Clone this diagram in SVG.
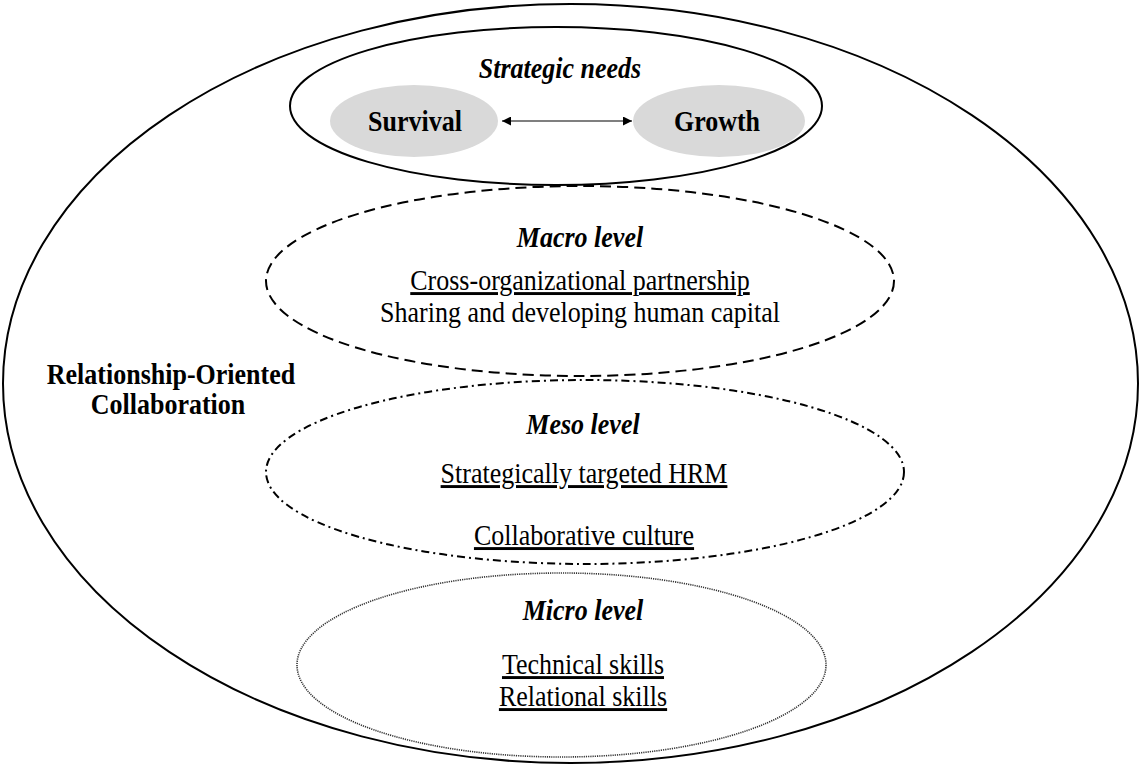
<svg xmlns="http://www.w3.org/2000/svg" width="1141" height="766" viewBox="0 0 1141 766">
  <style>
    .ring { fill: none; stroke: #000; stroke-width: 2; }
    .macro { stroke-dasharray: 11 6; }
    .meso { stroke-dasharray: 8 4 2 4; }
    .micro { stroke-width: 1.6; stroke-dasharray: 1.2 1; stroke: #333; }
    .need { fill: #d9d9d9; stroke: none; }
    text { font-family: "Liberation Serif", "Times New Roman", serif; font-size: 26px; fill: #000; text-anchor: middle; }
    .head { font-weight: bold; font-style: italic; }
    .bold { font-weight: bold; }
    .ul { text-decoration: underline; }
    .link { stroke: #000; stroke-width: 1.2; fill: none; }
  </style>
  <defs>
    <marker id="tip" viewBox="0 0 10 10" refX="10" refY="5" markerWidth="9" markerHeight="9" markerUnits="userSpaceOnUse" orient="auto-start-reverse">
      <path d="M0,0 L10,5 L0,10 Z" fill="#000"/>
    </marker>
  </defs>
  <rect width="1141" height="766" fill="#fff"/>

  <!-- outer frame: relationship-oriented collaboration; labels are drawn slightly tall (scale 1 x 1.12) -->
  <g id="collaboration">
    <ellipse class="ring" cx="570.5" cy="383.5" rx="567.5" ry="379.5"/>
    <text class="bold" transform="translate(171 384) scale(1 1.12)">Relationship-Oriented</text>
    <text class="bold" transform="translate(168 414) scale(1 1.12)">Collaboration</text>
  </g>

  <g id="strategic-needs">
    <ellipse class="ring" cx="556" cy="106" rx="266" ry="79"/>
    <text class="head" transform="translate(560 78) scale(1 1.12)">Strategic needs</text>
  </g>

  <g id="survival">
    <ellipse class="need" cx="414" cy="121" rx="84" ry="36"/>
    <text class="bold" transform="translate(415 131) scale(1 1.12)">Survival</text>
  </g>

  <g id="growth">
    <ellipse class="need" cx="719" cy="121" rx="86" ry="36"/>
    <text class="bold" transform="translate(717 131) scale(1 1.12)">Growth</text>
  </g>

  <g id="macro-level">
    <ellipse class="ring macro" cx="580" cy="281" rx="314" ry="95"/>
    <text class="head" transform="translate(580 247) scale(1 1.12)">Macro level</text>
    <text class="ul" transform="translate(580 290) scale(1 1.12)">Cross-organizational partnership</text>
    <text transform="translate(580 322) scale(1 1.12)">Sharing and developing human capital</text>
  </g>

  <g id="meso-level">
    <ellipse class="ring meso" cx="585" cy="472" rx="319" ry="92"/>
    <text class="head" transform="translate(583 434) scale(1 1.12)">Meso level</text>
    <text class="ul" transform="translate(584 483) scale(1 1.12)">Strategically targeted HRM</text>
    <text class="ul" transform="translate(584 545) scale(1 1.12)">Collaborative culture</text>
  </g>

  <g id="micro-level">
    <ellipse class="ring micro" cx="561.5" cy="665" rx="264.5" ry="92"/>
    <text class="head" transform="translate(583 620) scale(1 1.12)">Micro level</text>
    <text class="ul" transform="translate(583 674) scale(1 1.12)">Technical skills</text>
    <text class="ul" transform="translate(583 706) scale(1 1.12)">Relational skills</text>
  </g>

  <g id="connectors">
    <line class="link" x1="502" y1="121" x2="632" y2="121" marker-start="url(#tip)" marker-end="url(#tip)"/>
  </g>
</svg>
